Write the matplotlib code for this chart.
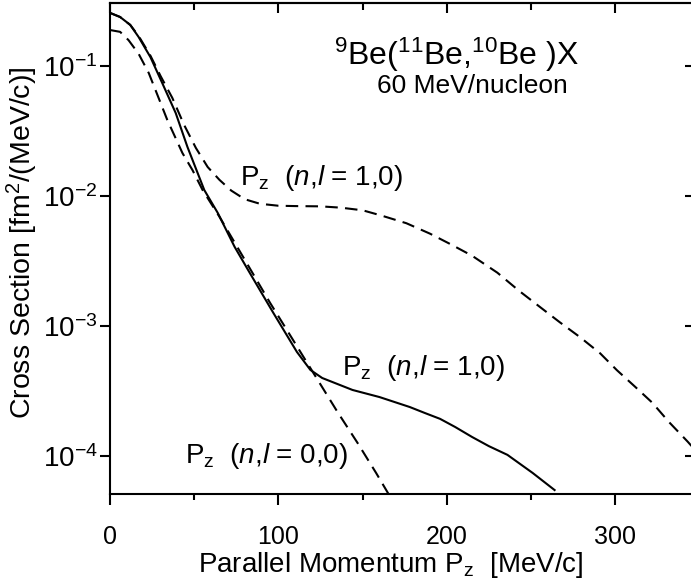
import numpy as np
import matplotlib
matplotlib.use("Agg")
import matplotlib.pyplot as plt
from matplotlib.ticker import FixedLocator, NullLocator

plt.rcParams["font.family"] = "Liberation Sans"
plt.rcParams["mathtext.fontset"] = "custom"
plt.rcParams["mathtext.rm"] = "Liberation Sans"
plt.rcParams["mathtext.it"] = "Liberation Sans:italic"
plt.rcParams["mathtext.sf"] = "Liberation Sans"

# solid curve, P_z (n,l = 1,0)
solid_x = [0, 6, 12, 17, 24, 31, 39, 46, 56, 64, 74, 83, 97, 111, 119,
           126, 144, 160, 178, 187, 196, 205, 215, 225, 236, 251, 264]
solid_y = [0.256, 0.238, 0.207, 0.167, 0.117, 0.0740, 0.0435, 0.0238, 0.0111,
           0.00740, 0.00406, 0.00256, 0.00126, 6.31e-4, 4.59e-4, 3.98e-4,
           3.22e-4, 2.84e-4, 2.38e-4, 2.14e-4, 1.93e-4, 1.67e-4, 1.40e-4,
           1.19e-4, 1.02e-4, 7.40e-5, 5.47e-5]

# lower dashed curve, P_z (n,l = 0,0)
s00_x = [0, 6, 11, 17, 23, 29, 34, 43, 49, 55, 65, 75, 85, 95, 105, 115,
         125, 135, 147, 158, 168]
s00_y = [0.189, 0.183, 0.158, 0.124, 0.0883, 0.0562, 0.0385, 0.0214, 0.0158,
         0.0111, 0.00692, 0.00417, 0.00251, 0.00151, 9.33e-4, 5.75e-4,
         3.55e-4, 2.19e-4, 1.26e-4, 7.41e-5, 4.47e-5]

# upper dashed curve, P_z (n,l = 1,0)
s10_x = [0, 6, 12, 17, 24, 30, 37, 44, 51, 58, 65, 72, 80, 89, 100, 110,
         125, 137, 150, 161, 176, 190, 202, 215, 230, 243, 255, 267, 279,
         291, 301, 312, 322, 332, 343, 350]
s10_y = [0.256, 0.238, 0.207, 0.170, 0.120, 0.0838, 0.0568, 0.0352, 0.0234,
         0.0167, 0.0133, 0.0110, 0.00944, 0.00871, 0.00841, 0.00836, 0.00832,
         0.00813, 0.00776, 0.00708, 0.00617, 0.00513, 0.00427, 0.00347,
         0.00257, 0.00186, 0.00141, 0.00107, 8.22e-4, 6.17e-4, 4.57e-4,
         3.39e-4, 2.57e-4, 1.82e-4, 1.29e-4, 1.02e-4]

x_major = [0, 100, 200, 300]
x_minor = [50, 150, 250]
y_major = [1e-4, 1e-3, 1e-2, 1e-1]
y_labels = [r"$10^{-4}$", r"$10^{-3}$", r"$10^{-2}$", r"$10^{-1}$"]

fig = plt.figure(figsize=(6.91, 5.85), dpi=100)
ax = fig.add_axes([110 / 691, 1 - 494 / 585, 581 / 691, 491 / 585])

lw = 1.5
ax.plot(solid_x, solid_y, color="black", lw=lw)
ax.plot(s00_x, s00_y, color="black", lw=lw, dashes=(6, 3.5))
ax.plot(s10_x, s10_y, color="black", lw=lw, dashes=(6, 3.5))

ax.set_yscale("log")
ax.set_xlim(0, 345)
ax.set_ylim(5.1e-5, 0.305)

ax.xaxis.set_major_locator(FixedLocator(x_major))
ax.xaxis.set_minor_locator(FixedLocator(x_minor))
ax.yaxis.set_major_locator(FixedLocator(y_major))
ax.yaxis.set_minor_locator(NullLocator())
ax.set_yticklabels(y_labels)
ax.tick_params(axis="x", which="major", direction="out", length=8, width=1.5,
               labelsize=18, pad=14)
ax.tick_params(axis="x", which="minor", direction="out", length=4.5, width=1.5)
ax.tick_params(axis="y", which="major", direction="out", length=7, width=1.5,
               labelsize=20, pad=2)

for side in ["left", "bottom", "top"]:
    ax.spines[side].set_linewidth(1.5)
ax.spines["right"].set_visible(False)

top = ax.secondary_xaxis("top")
top.xaxis.set_major_locator(FixedLocator(x_major))
top.xaxis.set_minor_locator(FixedLocator(x_minor))
top.tick_params(which="major", direction="in", length=7, width=1.5, labeltop=False)
top.tick_params(which="minor", direction="in", length=5, width=1.5)
top.spines["top"].set_linewidth(1.5)

right = ax.secondary_yaxis("right")
right.yaxis.set_major_locator(FixedLocator(y_major))
right.yaxis.set_minor_locator(NullLocator())
right.tick_params(which="major", direction="in", length=4, width=1.5, labelright=False)
right.spines["right"].set_visible(False)

ax.set_xlabel(r"Parallel Momentum P$_\mathrm{z}$  [MeV/c]", fontsize=20)
ax.xaxis.set_label_coords(0.484, -0.114)
ax.set_ylabel(r"Cross Section [fm$^2$/(MeV/c)]", fontsize=20.5)
ax.yaxis.set_label_coords(-0.12, 0.511)

ax.text(206, 0.102, r"$^{9}$Be($^{11}$Be,$^{10}$Be )X", fontsize=23,
        ha="center", va="baseline")
ax.text(215, 0.0619, "60 MeV/nucleon", fontsize=19, ha="center", va="baseline")

ax.text(77, 0.0122, r"P$_\mathrm{z}$  ($n$,$l$ = 1,0)", fontsize=20, va="baseline")
ax.text(138, 4.2e-4, r"P$_\mathrm{z}$  ($n$,$l$ = 1,0)", fontsize=20, va="baseline")
ax.text(44.5, 8.83e-5, r"P$_\mathrm{z}$  ($n$,$l$ = 0,0)", fontsize=20, va="baseline")

fig.savefig("out.png", dpi=100)
